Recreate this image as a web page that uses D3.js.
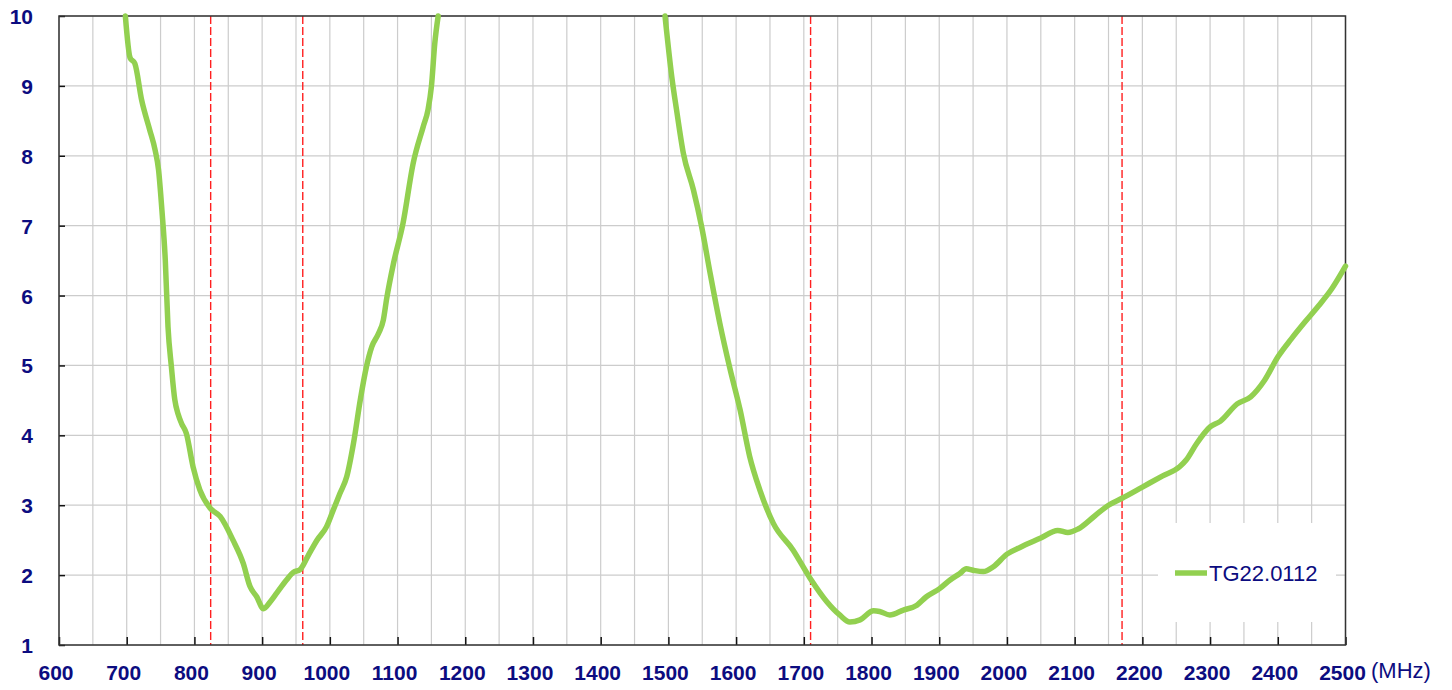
<!DOCTYPE html>
<html>
<head>
<meta charset="utf-8">
<script src="https://cdn.jsdelivr.net/npm/d3@7"></script>
<style>
  body { margin: 0; background: #fff; }
  svg text { font-family: Arial, "Liberation Sans", sans-serif; }
</style>
</head>
<body>
<svg id="chart" width="1452" height="690"></svg>
<script>
/* Daten */
const seriesName = "TG22.0112";
const freq = [698, 705, 712, 722, 734, 742, 747, 752, 757, 761, 766, 771, 776, 781, 788, 798, 808, 823, 838, 857,
              872, 882, 892, 902, 912, 922, 936, 946, 956, 968, 981, 995, 1005, 1015, 1025, 1035, 1045, 1054, 1062, 1072,
              1079, 1084, 1094, 1108, 1123, 1138, 1145, 1150, 1155, 1160,
              1300,
              1495, 1505, 1512, 1522, 1537, 1549, 1562, 1576, 1591, 1606, 1620, 1635, 1655, 1684, 1709, 1734, 1753, 1768,
              1783, 1803, 1812, 1827, 1847, 1867, 1881, 1901, 1916, 1930, 1940, 1950, 1965, 1980, 2000, 2020, 2050, 2075,
              2090, 2105, 2130, 2150, 2170, 2200, 2230, 2255, 2265, 2280, 2300, 2315, 2340, 2360, 2380, 2400, 2420, 2440,
              2460, 2480, 2500];
const vswr = [10, 9.40, 9.32, 8.8, 8.37, 8.08, 7.8, 7.22, 6.5, 5.55, 4.98, 4.51, 4.3, 4.17, 4.03, 3.55, 3.22, 2.96, 2.84, 2.50,
              2.17, 1.84, 1.69, 1.52, 1.62, 1.75, 1.93, 2.04, 2.08, 2.28, 2.50, 2.69, 2.93, 3.17, 3.41, 3.89, 4.51, 4.98, 5.27, 5.46,
              5.65, 5.96, 6.46, 7.03, 7.89, 8.42, 8.66, 8.99, 9.61, 10,
              null,
              10, 9.13, 8.66, 8.04, 7.51, 6.99, 6.3, 5.6, 4.95, 4.36, 3.7, 3.22, 2.74, 2.36, 1.96, 1.62, 1.43, 1.33,
              1.36, 1.49, 1.48, 1.43, 1.50, 1.57, 1.69, 1.81, 1.93, 2.02, 2.09, 2.07, 2.05, 2.12, 2.30, 2.40, 2.53, 2.64,
              2.61, 2.66, 2.85, 3.0, 3.1, 3.26, 3.42, 3.55, 3.65, 3.88, 4.12, 4.2, 4.45, 4.55, 4.78, 5.12, 5.38, 5.62,
              5.85, 6.1, 6.42];
const bandEdges = [824, 960, 1710, 2170];
const xTicks = d3.range(600, 2501, 100);
const xGrid  = d3.range(600, 2501, 50);
const yTicks = d3.range(1, 11, 1);

/* Optionen */
const plotLeft = 59, plotTop = 16, plotRight = 1345.5, plotBottom = 645;
const green = "#92d050";
const navy = "#0c0c80";

const svg = d3.select("#chart");

const x = d3.scaleLinear().domain([600, 2500]).range([plotLeft, plotRight]);
const y = d3.scaleLinear().domain([1, 10]).range([plotBottom, plotTop]);

// Gitter
svg.append("g").selectAll("line")
  .data(xGrid).enter().append("line")
    .attr("x1", d => x(d)).attr("x2", d => x(d))
    .attr("y1", plotTop).attr("y2", plotBottom)
    .attr("stroke", "#cccccc").attr("stroke-width", 1.2);

svg.append("g").selectAll("line")
  .data(yTicks).enter().append("line")
    .attr("x1", plotLeft).attr("x2", plotRight)
    .attr("y1", d => y(d)).attr("y2", d => y(d))
    .attr("stroke", "#cccccc").attr("stroke-width", 1.2);

// Legende-Hintergrund (verdeckt Gitter)
svg.append("rect")
  .attr("x", 1158).attr("y", 523)
  .attr("width", 178).attr("height", 99)
  .attr("fill", "#fff");

// Bandgrenzen
svg.append("g").selectAll("line")
  .data(bandEdges).enter().append("line")
    .attr("x1", d => x(d)).attr("x2", d => x(d))
    .attr("y1", plotTop).attr("y2", plotBottom)
    .attr("stroke", "#ff2020").attr("stroke-width", 1.4)
    .attr("stroke-dasharray", "8,3");

// Rahmen / Achsen
const xAxis = d3.axisBottom(x).tickValues(xTicks).tickSize(-8).tickFormat("");
svg.append("g").attr("transform", `translate(0,${plotBottom})`).call(xAxis)
  .call(g => g.select(".domain").remove())
  .selectAll("line").attr("stroke", "#111").attr("stroke-width", 1.5);

const yAxis = d3.axisLeft(y).tickValues(yTicks).tickSize(-6).tickFormat("");
svg.append("g").attr("transform", `translate(${plotLeft},0)`).call(yAxis)
  .call(g => g.select(".domain").remove())
  .selectAll("line").attr("stroke", "#111").attr("stroke-width", 1.5);

svg.append("rect")
  .attr("x", plotLeft).attr("y", plotTop)
  .attr("width", plotRight - plotLeft).attr("height", plotBottom - plotTop)
  .attr("fill", "none").attr("stroke", "#333").attr("stroke-width", 1.5);

// Kurve
const data = freq.map((f, i) => ({ f: f, v: vswr[i] }));
const line = d3.line()
  .defined(d => d.v !== null)
  .x(d => x(d.f))
  .y(d => y(d.v))
  .curve(d3.curveMonotoneX);

svg.append("path")
  .datum(data)
  .attr("d", line)
  .attr("fill", "none")
  .attr("stroke", green)
  .attr("stroke-width", 5.5)
  .attr("stroke-linejoin", "round")
  .attr("stroke-linecap", "round");

// Beschriftung
svg.append("g").selectAll("text")
  .data(yTicks).enter().append("text")
    .attr("x", 33).attr("y", d => y(d) + 8)
    .attr("text-anchor", "end")
    .attr("font-size", 21).attr("font-weight", "bold")
    .attr("fill", navy)
    .text(d => d);

svg.append("g").selectAll("text")
  .data(xTicks).enter().append("text")
    .attr("x", d => x(d) - 3).attr("y", 680)
    .attr("text-anchor", "middle")
    .attr("font-size", 21).attr("font-weight", "bold")
    .attr("fill", navy)
    .text(d => d);

svg.append("text")
  .attr("x", 1371).attr("y", 678)
  .attr("font-size", 22)
  .attr("fill", navy)
  .text("(MHz)");

// Legende
svg.append("line")
  .attr("x1", 1175).attr("x2", 1207)
  .attr("y1", 573).attr("y2", 573)
  .attr("stroke", green).attr("stroke-width", 5.5);

svg.append("text")
  .attr("x", 1209).attr("y", 581)
  .attr("font-size", 22)
  .attr("fill", navy)
  .text(seriesName);
</script>
</body>
</html>
